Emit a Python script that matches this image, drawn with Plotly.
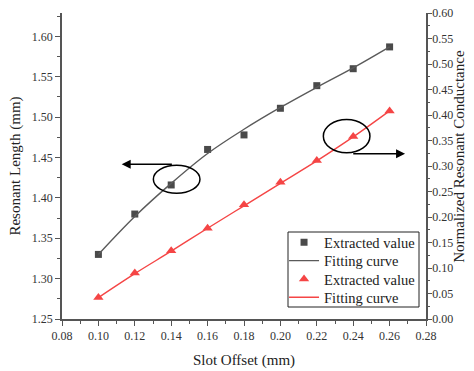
import plotly.graph_objects as go

slot_offset = [0.10, 0.12, 0.14, 0.16, 0.18, 0.20, 0.22, 0.24, 0.26]
length_extracted = [1.330, 1.380, 1.416, 1.460, 1.478, 1.511, 1.539, 1.560, 1.587]
length_fit = [1.330, 1.377, 1.418, 1.455, 1.485, 1.512, 1.537, 1.561, 1.587]
conduct_extracted = [0.042, 0.090, 0.134, 0.178, 0.224, 0.268, 0.311, 0.358, 0.408]
conduct_fit = [0.042, 0.089, 0.133, 0.178, 0.222, 0.266, 0.310, 0.357, 0.408]

FONT = "Liberation Serif, Times New Roman, serif"
AX = "#555555"
BLACK = "#4a4a4a"
RED = "#f54545"
TXT = "#222222"

fig = go.Figure()
fig.add_trace(go.Scatter(x=slot_offset, y=length_extracted, mode="markers",
                         marker=dict(symbol="square", size=7, color=BLACK),
                         name="Extracted value", xaxis="x", yaxis="y", legend="legend"))
fig.add_trace(go.Scatter(x=slot_offset, y=length_fit, mode="lines",
                         line=dict(color="#5a5a5a", width=1.4, shape="spline"),
                         name="Fitting curve", xaxis="x", yaxis="y", legend="legend2"))
fig.add_trace(go.Scatter(x=slot_offset, y=conduct_extracted, mode="markers",
                         marker=dict(symbol="triangle-up", size=9, color=RED),
                         name="Extracted value", xaxis="x", yaxis="y2", legend="legend3"))
fig.add_trace(go.Scatter(x=slot_offset, y=conduct_fit, mode="lines",
                         line=dict(color=RED, width=1.4, shape="spline"),
                         name="Fitting curve", xaxis="x", yaxis="y2", legend="legend4"))

tickfont = dict(family=FONT, size=12, color="#333333")
common = dict(showline=True, linecolor=AX, linewidth=1.5, ticks="outside",
              tickwidth=1.2, tickcolor=AX, tickfont=tickfont,
              showgrid=False, zeroline=False, automargin=False)

leg_x = 0.610
leg_rows = [0.2507, 0.1905, 0.1307, 0.0709]
def leg(yv):
    return dict(x=leg_x, y=yv, xanchor="left", yanchor="middle",
                bgcolor="rgba(0,0,0,0)", borderwidth=0,
                font=dict(family=FONT, size=14.5, color=TXT), itemwidth=30)

fig.update_layout(
    width=474, height=371,
    margin=dict(l=62, r=48, t=13, b=52, autoexpand=False),
    paper_bgcolor="white", plot_bgcolor="white",
    font=dict(family=FONT, color=TXT),
    xaxis=dict(range=[0.08, 0.28], dtick=0.02, tick0=0.08, tickformat=".2f", ticklen=5,
               minor=dict(ticks="outside", ticklen=3, dtick=0.01, tickcolor=AX, tickwidth=1),
               title=dict(text="Slot Offset (mm)", font=dict(family=FONT, size=15, color=TXT), standoff=12),
               anchor="y", **common),
    xaxis2=dict(range=[0.08, 0.28], dtick=0.02, tick0=0.08, overlaying="x", side="top",
                anchor="y", showline=True, linecolor=AX, linewidth=1.5, ticks="inside",
                ticklen=5, tickwidth=1.2, tickcolor=AX, showticklabels=False,
                minor=dict(ticks="inside", ticklen=3, dtick=0.01, tickcolor=AX, tickwidth=1),
                showgrid=False, zeroline=False, automargin=False),
    yaxis=dict(range=[1.25, 1.629], dtick=0.05, tick0=1.25, tickformat=".2f", ticklen=5,
               minor=dict(ticks="outside", ticklen=3, dtick=0.025, tickcolor=AX, tickwidth=1),
               title=dict(text="Resonant Length (mm)", font=dict(family=FONT, size=15, color=TXT), standoff=8),
               anchor="x", **common),
    yaxis2=dict(range=[0, 0.6], dtick=0.05, tick0=0, tickformat=".2f", overlaying="y", side="right",
                ticklen=4, ticklabelstandoff=-2,
                minor=dict(ticks="outside", ticklen=2.5, dtick=0.025, tickcolor=AX, tickwidth=1),
                anchor="x", **common),
    legend=leg(leg_rows[0]),
    legend2=leg(leg_rows[1]),
    legend3=leg(leg_rows[2]),
    legend4=leg(leg_rows[3]),
    showlegend=True,
)

# legend frame
fig.add_shape(type="rect", xref="paper", yref="paper", x0=0.6209, x1=0.9808, y0=0.0392, y1=0.2843,
              line=dict(color=TXT, width=1), fillcolor="white", layer="below")

# right axis title placed as annotation
fig.add_annotation(text="Normalized Resonant Conductance", xref="paper", yref="paper",
                   x=1.118, y=0.533, textangle=-90, showarrow=False,
                   font=dict(family=FONT, size=15, color=TXT))

# ellipses
fig.add_shape(type="circle", xref="x", yref="y", x0=0.1302, x1=0.1558, y0=1.4057, y1=1.4403,
              line=dict(color="black", width=1.5))
fig.add_shape(type="circle", xref="x", yref="y2", x0=0.2236, x1=0.2492, y0=0.326, y1=0.391,
              line=dict(color="black", width=1.5))

# arrows
fig.add_annotation(x=0.1128, y=1.4416, ax=0.1412, ay=1.4416, xref="x", yref="y",
                   axref="x", ayref="y", showarrow=True, arrowhead=2, arrowsize=1.2,
                   arrowwidth=1.5, arrowcolor="black", text="")
fig.add_annotation(x=0.2685, y=0.324, ax=0.2392, ay=0.324, xref="x", yref="y2",
                   axref="x", ayref="y2", showarrow=True, arrowhead=2, arrowsize=1.2,
                   arrowwidth=1.5, arrowcolor="black", text="")

fig.write_html("out.html")
